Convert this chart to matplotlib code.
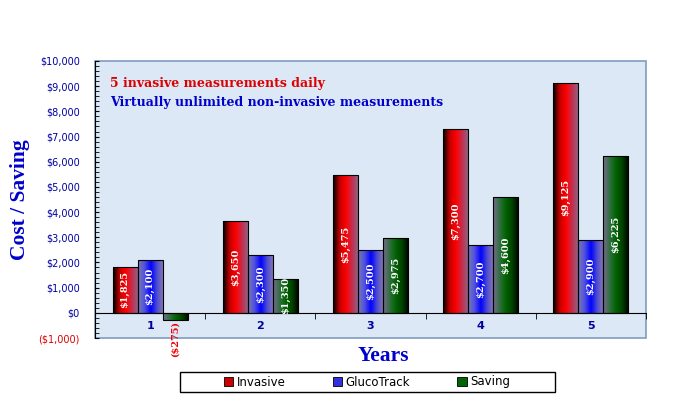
import numpy as np
import matplotlib.pyplot as plt
from matplotlib.colors import LinearSegmentedColormap
from matplotlib.patches import Patch, Rectangle

years = [1, 2, 3, 4, 5]
invasive = [1825, 3650, 5475, 7300, 9125]
glucotrack = [2100, 2300, 2500, 2700, 2900]
saving = [-275, 1350, 2975, 4600, 6225]
series_names = ["Invasive", "GlucoTrack", "Saving"]

yticks = list(range(-1000, 10001, 1000))


def money(v):
    return "(${:,})".format(-v) if v < 0 else "${:,}".format(v)


cmaps = [
    LinearSegmentedColormap.from_list("inv", ["#000000", "#c00000", "#ff0000", "#c03050", "#8a6a8a"]),
    LinearSegmentedColormap.from_list("glu", ["#7a7ab0", "#5050e0", "#0000ff", "#5050d0", "#8a7ab0"]),
    LinearSegmentedColormap.from_list("sav", ["#7a6a90", "#307040", "#006400", "#004000", "#000000"]),
]
flat = ["#cc0000", "#3030e0", "#006400"]

fig = plt.figure(figsize=(6.9, 3.97), dpi=100)
ax = fig.add_axes([95 / 690, 1 - 338 / 397, 551 / 690, 277 / 397])
ax.set_facecolor("#dce8f5")

w = 0.227
grad = np.linspace(0, 1, 64).reshape(1, -1)
for k, vals in enumerate([invasive, glucotrack, saving]):
    xs = np.array(years) + (k - 1) * w
    bars = ax.bar(xs, vals, width=w, color="none", edgecolor="black", linewidth=0.8, zorder=3)
    for b, v in zip(bars, vals):
        x0 = b.get_x()
        y0, y1 = min(0, v), max(0, v)
        im = ax.imshow(grad, cmap=cmaps[k], aspect="auto", extent=(x0, x0 + w, y0, y1),
                       zorder=2, interpolation="bilinear")
        im.set_clip_path(b)
        cx = x0 + w / 2
        if v >= 0:
            ax.text(cx, v / 2, money(v), rotation=90, ha="center", va="center", color="white",
                    fontsize=7, fontweight="bold", family="DejaVu Serif", zorder=4)
        else:
            ax.text(cx, v - 40, money(v), rotation=90, ha="center", va="top", color="#ee0000",
                    fontsize=7, fontweight="bold", family="DejaVu Serif", zorder=4,
                    clip_on=False)
ax.set_xlim(0.5, 5.5)
ax.set_ylim(-1000, 10000)

# frame
for s in ["top", "right"]:
    ax.spines[s].set_visible(False)
ax.spines["left"].set_color("black")
ax.spines["bottom"].set_position(("data", 0))
ax.spines["bottom"].set_color("black")
ax.add_patch(Rectangle((0, 0), 1, 1, transform=ax.transAxes, fill=False,
                       edgecolor="#7f9cc0", linewidth=1.2, clip_on=False, zorder=1))

ax.set_yticks(yticks)
ax.set_yticklabels([money(v) for v in yticks], fontsize=7, color="#0000a0")
ax.get_yticklabels()[0].set_color("#dd0000")
ax.set_yticks(list(range(-1000, 10001, 200)), minor=True)
ax.tick_params(axis="y", which="both", direction="in", length=3, pad=11)

ax.set_xticks(years)
ax.set_xticklabels([str(y) for y in years], fontsize=8, fontweight="bold", color="#0000a0")
ax.set_xticks([1.5, 2.5, 3.5, 4.5, 5.5], minor=True)
ax.tick_params(axis="x", which="major", length=0, pad=6)
ax.tick_params(axis="x", which="minor", direction="out", length=4)

ax.text(0.64, 9100, "5 invasive measurements daily", color="#dd0000", fontsize=9,
        fontweight="bold", family="DejaVu Serif", va="center")
ax.text(0.64, 8350, "Virtually unlimited non-invasive measurements", color="#0000cc",
        fontsize=9, fontweight="bold", family="DejaVu Serif", va="center")

fig.text(20 / 690, 1 - 200 / 397, "Cost / Saving", rotation=90, ha="center", va="center",
         color="#0000cc", fontsize=15.5, fontweight="bold", family="Liberation Serif")
fig.text(383 / 690, 1 - 356 / 397, "Years", ha="center", va="center",
         color="#0000cc", fontsize=15.5, fontweight="bold", family="Liberation Serif")

fig.add_artist(Rectangle((180 / 690, 5 / 397), 375 / 690, 20 / 397, transform=fig.transFigure,
                         facecolor="white", edgecolor="black", linewidth=1.0))
handles = [Patch(facecolor=c, edgecolor="black", linewidth=0.6) for c in flat]
leg = fig.legend(handles, series_names, loc="center", ncol=3,
                 bbox_to_anchor=(367 / 690, 15 / 397), frameon=False, fontsize=8.5,
                 handlelength=0.8, handleheight=0.8, handletextpad=0.3,
                 columnspacing=4.0, borderaxespad=0)

fig.savefig("out.png", dpi=100)
